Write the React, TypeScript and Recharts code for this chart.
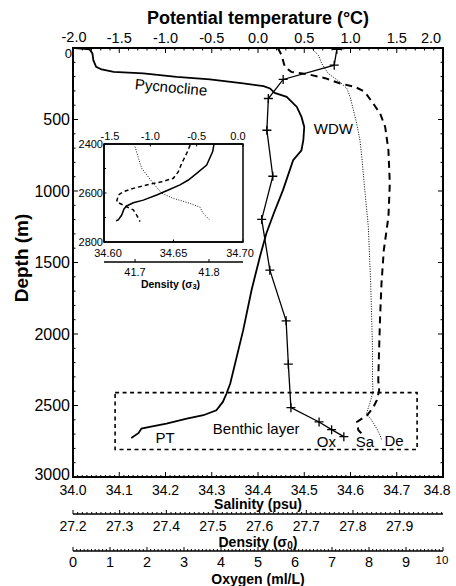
import React from "react";
import { LineChart, Line, XAxis, YAxis, ReferenceArea, ReferenceDot } from "recharts";

const FONT = "'Liberation Sans', Arial, Helvetica, sans-serif";

// main profiles, [depth (m), value]
const ptMain: number[][] = [
  [0, -1.98], [10, -1.82], [38, -1.79], [85, -1.78], [132, -1.75], [150, -1.69], [167, -1.56],
  [178, -1.24], [202, -0.88], [220, -0.52], [248, -0.16], [267, 0.06], [283, 0.13], [314, 0.18],
  [342, 0.31], [412, 0.42], [482, 0.47], [552, 0.5], [645, 0.49], [715, 0.47], [785, 0.38],
  [994, 0.27], [1157, 0.17], [1297, 0.09], [1461, 0.02], [1694, -0.07], [1973, -0.16], [2346, -0.3],
  [2416, -0.34], [2475, -0.38], [2533, -0.45], [2568, -0.59], [2591, -0.77], [2626, -0.99],
  [2650, -1.17], [2661, -1.26], [2692, -1.29], [2727, -1.37],
];
const oxMain: number[][] = [
  [0, 7.43], [10, 7.13], [120, 7.06], [220, 5.68], [353, 5.28], [575, 5.24], [897, 5.4],
  [1199, 5.1], [1554, 5.32], [1908, 5.76], [2211, 5.82], [2515, 5.89], [2615, 6.65], [2669, 6.99],
  [2718, 7.32],
];
const saMain: number[][] = [
  [0, 34.443], [50, 34.451], [132, 34.458], [167, 34.472], [185, 34.51], [211, 34.545], [248, 34.578],
  [272, 34.61], [307, 34.631], [388, 34.649], [458, 34.664], [552, 34.675], [715, 34.682],
  [948, 34.685], [1181, 34.682], [1414, 34.672], [1647, 34.667], [1880, 34.664], [2090, 34.662],
  [2323, 34.66], [2393, 34.662], [2463, 34.657], [2515, 34.649], [2568, 34.636], [2615, 34.614],
  [2673, 34.617], [2696, 34.624],
];
const deMain: number[][] = [
  [0, 27.71], [50, 27.726], [108, 27.733], [178, 27.747], [237, 27.772], [283, 27.787], [342, 27.794],
  [435, 27.801], [528, 27.808], [645, 27.815], [762, 27.819], [1017, 27.826], [1251, 27.833],
  [1414, 27.835], [1647, 27.838], [1880, 27.84], [2090, 27.842], [2323, 27.842], [2407, 27.843],
  [2486, 27.836], [2556, 27.829], [2603, 27.84], [2661, 27.851], [2708, 27.858], [2743, 27.862],
];

// inset (bottom 400 m)
const ptInset: number[][] = [
  [2400, -0.313], [2431, -0.327], [2486, -0.392], [2520, -0.5], [2547, -0.59], [2567, -0.68],
  [2588, -0.806], [2608, -0.931], [2629, -1.076], [2640, -1.184], [2653, -1.255], [2665, -1.284],
  [2690, -1.309], [2710, -1.346], [2713, -1.37],
];
const saInset: number[][] = [
  [2404, 34.662], [2438, 34.6595], [2479, 34.6559], [2513, 34.6535], [2540, 34.6499], [2554, 34.6415],
  [2567, 34.6307], [2581, 34.6211], [2595, 34.6139], [2608, 34.6103], [2636, 34.6091], [2653, 34.6151],
  [2669, 34.6211], [2690, 34.6235], [2717, 34.6259],
];
const deInset: number[][] = [
  [2411, 41.7], [2452, 41.704], [2499, 41.709], [2554, 41.723], [2601, 41.736], [2622, 41.752],
  [2642, 41.774], [2658, 41.788], [2683, 41.792], [2710, 41.801],
];

// tick labels
const ptTicks = [-2, -1.5, -1, -0.5, 0, 0.5, 1, 1.5, 2];
const depthTicks = [0, 500, 1000, 1500, 2000, 2500, 3000];
const salTicks = [34.0, 34.1, 34.2, 34.3, 34.4, 34.5, 34.6, 34.7, 34.8];
const sig0Ticks = [27.2, 27.3, 27.4, 27.5, 27.6, 27.7, 27.8, 27.9];
const oxTicks = [0, 1, 2, 3, 4, 5, 6, 7, 8, 9, 10];
const inPtTicks = [-1.5, -1.0, -0.5, 0.0];
const inDepthTicks = [2400, 2600, 2800];
const inSalTicks = [34.6, 34.65, 34.7];
const inSig3Ticks = [41.7, 41.8];

const steps = (a: number, b: number, st: number) => {
  const n = Math.round((b - a) / st);
  return Array.from({ length: n + 1 }, (_, i) => +(a + i * st).toFixed(4));
};
const rows = (pairs: number[][]) => pairs.map(([d, v]) => ({ d, v }));
const near = (arr: number[], v: number) => arr.some((m) => Math.abs(m - v) < 1e-6);

type Side = "top" | "bottom" | "left" | "right";
type TickCfg = {
  side: Side;
  major: number[];
  fmt?: (v: number) => string;
  size?: number;
  off?: number;
  majLen?: number;
  minLen?: number;
  shrink?: number[];
  nudge?: Record<string, [number, number]>;
};

function tickOf(c: TickCfg) {
  return (p: any) => {
    const v: number = p.payload.value;
    const x: number = p.x;
    const y: number = p.y;
    const big = near(c.major, v);
    const len = big ? c.majLen ?? 5 : c.minLen ?? 2.5;
    let off = c.off ?? 12;
    let size = c.size ?? 14;
    if (c.shrink && near(c.shrink, v)) {
      size -= 3;
      off -= 2;
    }
    let seg: number[];
    let tx = x;
    let ty = y;
    let anchor = "middle";
    if (c.side === "top") {
      seg = [x, y, x, y + len];
      ty = y - off;
    } else if (c.side === "bottom") {
      seg = [x, y, x, y - len];
      ty = y + off;
    } else if (c.side === "left") {
      seg = [x, y, x + len, y];
      tx = x - off;
      anchor = "end";
    } else {
      seg = [x, y, x - len, y];
    }
    const nd = c.nudge?.[String(v)];
    if (nd) {
      tx += nd[0];
      ty += nd[1];
    }
    return (
      <g>
        <line x1={seg[0]} y1={seg[1]} x2={seg[2]} y2={seg[3]} stroke="#000" strokeWidth={1} />
        {big && c.fmt ? (
          <text x={tx} y={ty} textAnchor={anchor} dominantBaseline="central" fontSize={size} fontFamily={FONT} fill="#000">
            {c.fmt(v)}
          </text>
        ) : null}
      </g>
    );
  };
}

const f1 = (v: number) => v.toFixed(1);
const f2 = (v: number) => v.toFixed(2);
const f0 = (v: number) => String(v);
const AX = { stroke: "#000", strokeWidth: 2 };
const AXI = { stroke: "#000", strokeWidth: 1.5 };

const title = (text: React.ReactNode, dy: number, size = 15, dx = 0) => (p: any) => {
  const vb = p.viewBox;
  return (
    <text x={vb.x + vb.width / 2 + dx} y={vb.y + dy} textAnchor="middle" dominantBaseline="central" fontSize={size} fontWeight="bold" fontFamily={FONT} fill="#000">
      {text}
    </text>
  );
};

const sub = (base: string, s: string, size: number) => (
  <>
    {base}
    <tspan fontSize={size * 0.72} dy={size * 0.28}>{s}</tspan>
    <tspan dy={-size * 0.28}>)</tspan>
  </>
);

const plus = (p: any) => {
  if (p.index === 0) return <g key={`o${p.index}`} />;
  return (
    <path key={`o${p.index}`} d={`M${p.cx - 4.5},${p.cy}h9M${p.cx},${p.cy - 4.5}v9`} stroke="#000" strokeWidth={1.3} fill="none" />
  );
};

const notes = [
  { text: "Pycnocline", s: 34.212, d: 274, angle: 5 },
  { text: "WDW", s: 34.563, d: 561, angle: 0 },
  { text: "Benthic layer", s: 34.396, d: 2659, angle: 0 },
  { text: "PT", s: 34.199, d: 2722, angle: 0 },
  { text: "Ox", s: 34.548, d: 2750, angle: 0 },
  { text: "Sa", s: 34.631, d: 2750, angle: 0 },
  { text: "De", s: 34.694, d: 2743, angle: 0 },
];

export default function App() {
  return (
    <div style={{ position: "absolute", left: 0, top: 0, width: 456, height: 586, background: "#fff" }}>
      <div style={{ position: "absolute", left: 0, top: 0 }}>
        <LineChart width={456} height={586} layout="vertical" margin={{ top: 0, right: 0, bottom: 0, left: 0 }}>
          <XAxis
            xAxisId="pt" orientation="top" type="number" domain={[-2, 2]} allowDataOverflow
            ticks={steps(-2, 2, 0.1)} interval={0} height={48} tickSize={0} tickMargin={0} tickLine={false} axisLine={AX}
            tick={tickOf({ side: "top", major: ptTicks, fmt: f1, size: 14.5, off: 10, nudge: { "2": [-12, 0], "-2": [1, -1] } })}
            label={title("Potential temperature (°C)", 18, 18)}
          />
          <XAxis
            xAxisId="a_sal" orientation="bottom" type="number" domain={[34, 34.8]} allowDataOverflow
            ticks={steps(34, 34.8, 0.01)} interval={0} height={37} tickSize={0} tickMargin={0} tickLine={false} axisLine={AX}
            tick={tickOf({ side: "bottom", major: salTicks, fmt: f1, size: 14, off: 12.5, minLen: 2, nudge: { "34.8": [-6, 0] } })}
            label={title("Salinity (psu)", 27, 14)}
          />
          <XAxis
            xAxisId="b_sig" orientation="bottom" type="number" domain={[27.2, 27.993]} allowDataOverflow
            ticks={steps(27.2, 27.99, 0.01)} interval={0} height={37} tickSize={0} tickMargin={0} tickLine={false} axisLine={AXI}
            tick={tickOf({ side: "bottom", major: sig0Ticks, fmt: f1, size: 14, off: 12, minLen: 2, majLen: 4 })}
            label={title(sub("Density (σ", "0", 14), 27.5, 14)}
          />
          <XAxis
            xAxisId="c_ox" orientation="bottom" type="number" domain={[0, 10]} allowDataOverflow
            ticks={steps(0, 10, 0.1)} interval={0} height={35} tickSize={0} tickMargin={0} tickLine={false} axisLine={AXI}
            tick={tickOf({ side: "bottom", major: oxTicks, fmt: f0, size: 14.5, off: 11, minLen: 2, majLen: 4, shrink: [10], nudge: { "10": [-1, 0] } })}
            label={title("Oxygen (ml/L)", 27.5, 14)}
          />
          <YAxis
            yAxisId="d" dataKey="d" type="number" domain={[0, 3000]} allowDataOverflow
            ticks={steps(0, 3000, 100)} interval={0} width={73} tickSize={0} tickMargin={0} tickLine={false} axisLine={AX}
            tick={tickOf({ side: "left", major: depthTicks, fmt: f0, size: 16, off: 3, shrink: [0], nudge: { "0": [0, 5], "3000": [0, -3] } })}
            label={(p: any) => (
              <text
                x={p.viewBox.x + 21} y={p.viewBox.y + 210} transform={`rotate(-90 ${p.viewBox.x + 21} ${p.viewBox.y + 210})`}
                textAnchor="middle" dominantBaseline="central" fontSize={19} fontWeight="bold" fontFamily={FONT} fill="#000"
              >
                Depth (m)
              </text>
            )}
          />
          <YAxis
            yAxisId="r" orientation="right" dataKey="d" type="number" domain={[0, 3000]} allowDataOverflow
            ticks={steps(0, 3000, 100)} interval={0} width={13} tickSize={0} tickMargin={0} tickLine={false} axisLine={AX}
            tick={tickOf({ side: "right", major: depthTicks })}
          />
          <ReferenceArea xAxisId="a_sal" yAxisId="d" x1={34} x2={34.8} y1={0} y2={3000} fill="none" stroke="#000" strokeWidth={2} />
          <ReferenceArea
            xAxisId="a_sal" yAxisId="d" x1={34.091} x2={34.744} y1={2410} y2={2808}
            fill="none" stroke="#000" strokeWidth={1.6} strokeDasharray="4 3.5"
          />
          <Line xAxisId="pt" yAxisId="d" data={rows(ptMain)} dataKey="v" stroke="#000" strokeWidth={1.8} dot={false} isAnimationActive={false} />
          <Line xAxisId="c_ox" yAxisId="d" data={rows(oxMain)} dataKey="v" stroke="#000" strokeWidth={1.3} dot={plus} isAnimationActive={false} />
          <Line xAxisId="a_sal" yAxisId="d" data={rows(saMain)} dataKey="v" stroke="#000" strokeWidth={2} strokeDasharray="7 5" dot={false} isAnimationActive={false} />
          <Line xAxisId="b_sig" yAxisId="d" data={rows(deMain)} dataKey="v" stroke="#000" strokeWidth={1} strokeDasharray="1 1.5" dot={false} isAnimationActive={false} />
          {notes.map((n) => (
            <ReferenceDot
              key={n.text} xAxisId="a_sal" yAxisId="d" x={n.s} y={n.d} r={0} fill="none" stroke="none"
              label={{ value: n.text, position: "center", angle: n.angle, fontSize: 15, fontFamily: FONT, fill: "#000" }}
            />
          ))}
        </LineChart>
      </div>
      <div style={{ position: "absolute", left: 70, top: 122 }}>
        <LineChart width={190} height={168} layout="vertical" margin={{ top: 0, right: 17, bottom: 0, left: 0 }}>
          <XAxis
            xAxisId="ipt" orientation="top" type="number" domain={[-1.5, 0]} allowDataOverflow
            ticks={inPtTicks} interval={0} height={22} tickSize={0} tickMargin={0} tickLine={false} axisLine={AXI}
            tick={tickOf({ side: "top", major: inPtTicks, fmt: f1, size: 11, off: 8, majLen: 2.5, nudge: { "-1.5": [6, 0], "0": [-5, 0] } })}
          />
          <XAxis
            xAxisId="isal" orientation="bottom" type="number" domain={[34.6, 34.7]} allowDataOverflow
            ticks={inSalTicks} interval={0} height={20} tickSize={0} tickMargin={0} tickLine={false} axisLine={AXI}
            tick={tickOf({ side: "bottom", major: inSalTicks, fmt: f2, size: 11, off: 11, majLen: 2.5, nudge: { "34.6": [4, 0], "34.7": [-3, 0] } })}
          />
          <XAxis
            xAxisId="isig" orientation="bottom" type="number" domain={[41.658, 41.846]} allowDataOverflow
            ticks={inSig3Ticks} interval={0} height={28} tickSize={0} tickMargin={0} tickLine={false} axisLine={AXI}
            tick={tickOf({ side: "bottom", major: inSig3Ticks, fmt: f1, size: 11, off: 9.5, majLen: 3 })}
            label={title(sub("Density (σ", "3", 10.5), 21.5, 10.5, -3)}
          />
          <YAxis
            yAxisId="id" dataKey="d" type="number" domain={[2400, 2800]} allowDataOverflow
            ticks={steps(2400, 2800, 100)} interval={0} width={34} tickSize={0} tickMargin={0} tickLine={false} axisLine={AXI}
            tick={tickOf({ side: "left", major: inDepthTicks, fmt: f0, size: 11, off: 1, majLen: 2.5, minLen: 2 })}
          />
          <ReferenceArea xAxisId="ipt" yAxisId="id" x1={-1.5} x2={0} y1={2400} y2={2800} fill="none" stroke="#000" strokeWidth={1.5} />
          <Line xAxisId="ipt" yAxisId="id" data={rows(ptInset)} dataKey="v" stroke="#000" strokeWidth={1.5} dot={false} isAnimationActive={false} />
          <Line xAxisId="isal" yAxisId="id" data={rows(saInset)} dataKey="v" stroke="#000" strokeWidth={1.5} strokeDasharray="4 3" dot={false} isAnimationActive={false} />
          <Line xAxisId="isig" yAxisId="id" data={rows(deInset)} dataKey="v" stroke="#000" strokeWidth={0.9} strokeDasharray="1 1.5" dot={false} isAnimationActive={false} />
        </LineChart>
      </div>
    </div>
  );
}
